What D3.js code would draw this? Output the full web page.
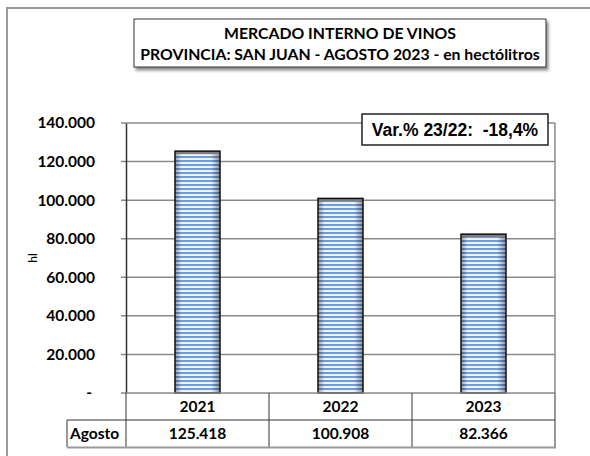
<!DOCTYPE html>
<html>
<head>
<meta charset="utf-8">
<script src="https://cdn.jsdelivr.net/npm/d3@7"></script>
<style>
  body { margin: 0; background: #fff; }
  svg { display: block; }
  text { font-family: Lato, "Open Sans", sans-serif; font-weight: bold; fill: #000; }
  text.var { font-family: Arial, "Liberation Sans", sans-serif; white-space: pre; }
  text.ylab { font-weight: normal; }
</style>
</head>
<body>
<div id="chart"></div>
<script>
// data
const years = ['2021', '2022', '2023'];
const agosto = [125418, 100908, 82366];
const yTicks = [0, 20000, 40000, 60000, 80000, 100000, 120000, 140000];
const titleLines = ['MERCADO INTERNO DE VINOS', 'PROVINCIA: SAN JUAN - AGOSTO 2023 - en hectólitros'];
const varLabel = 'Var.% 23/22:  -18,4%';
const rowLabel = 'Agosto';

const W = 590, H = 456;
const plot = { left: 126, right: 555, top: 123, bottom: 393 };
const fmt = d => d3.format(',')(d).replace(/,/g, '.');

const svg = d3.select('#chart').append('svg')
    .attr('width', W)
    .attr('height', H);

// patterns / gradients
const defs = svg.append('defs');
const pat = defs.append('pattern')
    .attr('id', 'stripes')
    .attr('patternUnits', 'userSpaceOnUse')
    .attr('width', 8).attr('height', 4);
pat.append('rect').attr('width', 8).attr('height', 4).attr('fill', '#eef3fa');
pat.append('rect').attr('y', 0).attr('width', 8).attr('height', 2).attr('fill', '#6b9fdc');

const shade = defs.append('linearGradient').attr('id', 'shade')
    .attr('x1', 0).attr('x2', 1).attr('y1', 0).attr('y2', 0);
shade.append('stop').attr('offset', 0).attr('stop-color', '#000').attr('stop-opacity', 0.35);
shade.append('stop').attr('offset', 0.15).attr('stop-color', '#000').attr('stop-opacity', 0);
shade.append('stop').attr('offset', 0.8).attr('stop-color', '#000').attr('stop-opacity', 0);
shade.append('stop').attr('offset', 1).attr('stop-color', '#000').attr('stop-opacity', 0.4);

const blur = defs.append('filter').attr('id', 'shadow')
    .attr('x', '-10%').attr('y', '-10%').attr('width', '130%').attr('height', '150%');
blur.append('feDropShadow').attr('dx', 2).attr('dy', 3).attr('stdDeviation', 1.5)
    .attr('flood-color', '#000').attr('flood-opacity', 0.45);

// outer frame
svg.append('rect')
    .attr('x', 7).attr('y', 8)
    .attr('width', W + 10).attr('height', H + 10)
    .attr('fill', 'none')
    .attr('stroke', '#9a9a9a')
    .attr('stroke-width', 2);

// scales
const x = d3.scaleBand()
    .domain(years)
    .range([plot.left, plot.right]);

const y = d3.scaleLinear()
    .domain([0, 140000])
    .range([plot.bottom, plot.top]);

// gridlines
svg.append('g')
    .selectAll('line')
    .data(yTicks.filter(d => d > 0))
    .join('line')
    .attr('x1', plot.left - 5).attr('x2', plot.right)
    .attr('y1', d => y(d)).attr('y2', d => y(d))
    .attr('stroke', '#8a8a8a')
    .attr('stroke-width', 1.5);

// right frame
svg.append('line')
    .attr('x1', plot.right).attr('x2', plot.right)
    .attr('y1', plot.top).attr('y2', plot.bottom)
    .attr('stroke', '#8a8a8a').attr('stroke-width', 1.5);

// y axis
const yAxis = d3.axisLeft(y)
    .tickValues(yTicks)
    .tickSize(0)
    .tickPadding(31)
    .tickFormat(d => d === 0 ? '-' : fmt(d));
const gy = svg.append('g')
    .attr('transform', 'translate(' + plot.left + ',0)')
    .call(yAxis);
gy.select('.domain').attr('stroke', '#333').attr('stroke-width', 1.5);
gy.selectAll('text')
    .attr('font-size', 15.5)
    .attr('font-family', null)
    .attr('fill', '#000');
gy.selectAll('.tick').filter(d => d === 0).select('text').attr('dx', -3);

// axis title
svg.append('text')
    .attr('class', 'ylab')
    .attr('transform', 'translate(37,' + ((plot.top + plot.bottom) / 2) + ') rotate(-90)')
    .attr('text-anchor', 'middle')
    .attr('font-size', 12)
    .text('hl');

// bars
const barW = 45;
const bars = svg.append('g').selectAll('g')
    .data(years.map((yr, i) => ({ year: yr, value: agosto[i] })))
    .join('g')
    .attr('transform', d => 'translate(' + (x(d.year) + x.bandwidth() / 2 - barW / 2) + ',0)');

bars.append('rect')
    .attr('y', d => y(d.value))
    .attr('width', barW)
    .attr('height', d => plot.bottom - y(d.value))
    .attr('fill', 'url(#stripes)');
bars.append('rect')
    .attr('y', d => y(d.value))
    .attr('width', barW)
    .attr('height', d => plot.bottom - y(d.value))
    .attr('fill', 'url(#shade)');
bars.append('rect')
    .attr('y', d => y(d.value))
    .attr('width', barW)
    .attr('height', 3)
    .attr('fill', '#7d7d7d');
bars.append('rect')
    .attr('y', d => y(d.value))
    .attr('width', barW)
    .attr('height', d => plot.bottom - y(d.value))
    .attr('fill', 'none')
    .attr('stroke', '#111')
    .attr('stroke-width', 1.5);

// baseline
svg.append('line')
    .attr('x1', plot.left - 5).attr('x2', plot.right)
    .attr('y1', plot.bottom).attr('y2', plot.bottom)
    .attr('stroke', '#8a8a8a').attr('stroke-width', 1.5);

// data table
const rowH = 27;
const tableLeft = 67;
const tbl = svg.append('g').attr('stroke', '#333').attr('stroke-width', 1);
[plot.left].concat(years.map(d => x(d) + x.bandwidth())).forEach(xx => {
    tbl.append('line')
        .attr('x1', xx).attr('x2', xx)
        .attr('y1', plot.bottom).attr('y2', plot.bottom + rowH * 2);
});
tbl.append('line')
    .attr('x1', tableLeft).attr('x2', tableLeft)
    .attr('y1', plot.bottom + rowH).attr('y2', plot.bottom + rowH * 2);
tbl.append('line')
    .attr('x1', tableLeft).attr('x2', plot.right)
    .attr('y1', plot.bottom + rowH).attr('y2', plot.bottom + rowH);
svg.append('line')
    .attr('x1', tableLeft).attr('x2', plot.right + 1)
    .attr('y1', plot.bottom + rowH * 2 + 0.5).attr('y2', plot.bottom + rowH * 2 + 0.5)
    .attr('stroke', '#999').attr('stroke-width', 2);

svg.append('g').selectAll('text')
    .data(years)
    .join('text')
    .attr('x', d => x(d) + x.bandwidth() / 2)
    .attr('y', plot.bottom + 19)
    .attr('text-anchor', 'middle')
    .attr('font-size', 15.5)
    .text(d => d);

svg.append('g').selectAll('text')
    .data(agosto)
    .join('text')
    .attr('x', (d, i) => x(years[i]) + x.bandwidth() / 2)
    .attr('y', plot.bottom + rowH + 19)
    .attr('text-anchor', 'middle')
    .attr('font-size', 15.5)
    .text(fmt);

svg.append('text')
    .attr('x', tableLeft + 3)
    .attr('y', plot.bottom + rowH + 19)
    .attr('font-size', 15.5)
    .text(rowLabel);

// title box
svg.append('rect')
    .attr('x', 134).attr('y', 19)
    .attr('width', 412).attr('height', 48)
    .attr('fill', '#fff')
    .attr('stroke', '#333')
    .attr('stroke-width', 1)
    .attr('filter', 'url(#shadow)');
svg.append('g').selectAll('text')
    .data(titleLines)
    .join('text')
    .attr('x', 340)
    .attr('y', (d, i) => 39 + i * 21)
    .attr('text-anchor', 'middle')
    .attr('font-size', 15.8)
    .text(d => d);

// variation box
svg.append('rect')
    .attr('x', 362).attr('y', 114)
    .attr('width', 186).attr('height', 31)
    .attr('fill', '#fff')
    .attr('stroke', '#222')
    .attr('stroke-width', 1.5);
svg.append('text')
    .attr('class', 'var')
    .attr('x', 455)
    .attr('y', 136)
    .attr('text-anchor', 'middle')
    .attr('font-size', 17.5)
    .text(varLabel);
</script>
</body>
</html>
